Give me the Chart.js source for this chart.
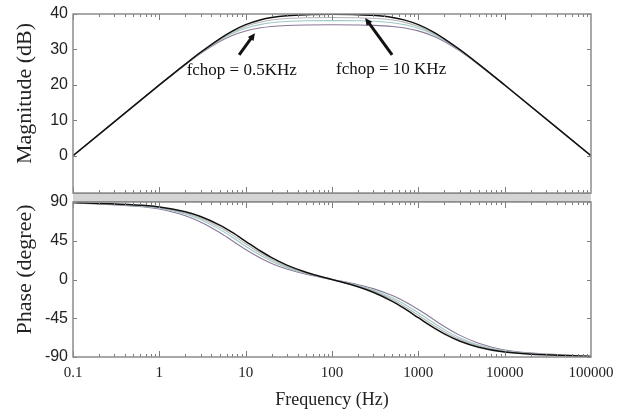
<!DOCTYPE html>
<html>
<head>
<meta charset="utf-8">
<script src="https://cdn.jsdelivr.net/npm/chart.js@4"></script>
<style>
  body { margin: 0; background: #fff; }
  #wrap { position: relative; width: 619px; height: 418px; overflow: hidden; }
  .box { position: absolute; left: 0; width: 619px; }
  #top { top: 0; height: 196px; }
  #bot { top: 186px; height: 232px; }
  #band { position: absolute; left: 73px; width: 518px; top: 193px; height: 7px;
          background: #d4d4d4; border-top: 1px solid #8c8c8c; border-bottom: 1px solid #8c8c8c; z-index: 2; }
</style>
</head>
<body>
<div id="wrap">
  <div class="box" id="top"><canvas id="magChart"></canvas></div>
  <div id="band"></div>
  <div class="box" id="bot"><canvas id="phaseChart"></canvas></div>
</div>
<script>
// frequency points (Hz)
const freqs = [0.1, 1, 2, 3, 5, 7, 10, 15, 20, 30, 50, 100, 200, 300, 500, 700, 1000, 1500, 2000, 3000, 5000, 10000, 100000];

// magnitude (dB)
const magBlack  = [0, 20.0, 25.85, 29.17, 33.01, 35.17, 36.99, 38.40, 39.03, 39.54, 39.82, 39.91, 39.82, 39.62, 39.03, 38.27, 36.99, 34.88, 33.01, 30.0, 25.85, 19.96, 0];
const magGray   = [0, 19.97, 25.81, 29.08, 32.8, 34.83, 36.5, 37.74, 38.29, 38.72, 38.95, 39.03, 38.96, 38.79, 38.29, 37.63, 36.5, 34.56, 32.8, 29.89, 25.81, 19.95, 0];
const magTeal   = [0, 19.93, 25.77, 28.99, 32.59, 34.49, 36.0, 37.08, 37.54, 37.89, 38.08, 38.14, 38.09, 37.95, 37.54, 36.98, 36.0, 34.24, 32.58, 29.78, 25.76, 19.93, 0];
const magPurple = [0, 19.91, 25.69, 28.82, 32.22, 33.94, 35.23, 36.13, 36.49, 36.76, 36.90, 36.96, 36.90, 36.80, 36.49, 36.05, 35.24, 33.72, 32.22, 29.59, 25.69, 19.92, 0];

// phase (degree)
const phaseBlack  = [89.4, 84.2, 78.6, 73.1, 63.1, 54.6, 44.4, 32.8, 25.4, 16.7, 8.4, 0, -8.4, -14.8, -25.4, -34.2, -44.4, -55.9, -63.1, -71.4, -78.6, -84.2, -89.4];
const phaseGray   = [89.35, 83.5, 77.3, 71.3, 60.6, 51.8, 41.5, 30.3, 23.3, 15.2, 7.6, 0, -7.6, -13.5, -23.3, -31.6, -41.5, -53.1, -60.6, -69.5, -77.3, -83.5, -89.35];
const phaseTeal   = [89.3, 82.9, 76.1, 69.6, 58.2, 49.0, 38.6, 27.8, 21.2, 13.8, 6.9, 0, -6.9, -12.2, -21.2, -29.0, -38.6, -50.3, -58.2, -67.6, -76.1, -82.9, -89.3];
const phasePurple = [89.2, 81.9, 74.1, 66.9, 54.6, 45.0, 34.9, 24.7, 18.7, 12.1, 6.0, 0, -6.0, -10.6, -18.7, -25.8, -34.9, -46.4, -54.6, -64.6, -74.1, -81.9, -89.2];

// tick labels
const freqLabels = [0.1, 1, 10, 100, 1000, 10000, 100000];
const magTicks = [0, 10, 20, 30, 40];
const phaseTicks = [-90, -45, 0, 45, 90];

const serif = '"Liberation Serif", "Times New Roman", serif';
const sans = '"Liberation Sans", Arial, sans-serif';

function series(vals) {
  return freqs.map((f, i) => ({ x: f, y: vals[i] }));
}

function makeSets(black, gray, teal, purple) {
  const base = { pointRadius: 0, fill: false, cubicInterpolationMode: 'monotone' };
  return [
    Object.assign({ data: series(black), borderColor: '#111111', borderWidth: 1.5 }, base),
    Object.assign({ data: series(gray), borderColor: '#b4b4b4', borderWidth: 1.1 }, base),
    Object.assign({ data: series(teal), borderColor: '#9cc8c6', borderWidth: 1.1 }, base),
    Object.assign({ data: series(purple), borderColor: '#8a7898', borderWidth: 1.1 }, base)
  ];
}

// drop the extra room Chart.js keeps for half a label at the axis ends
function noEdgePad(s) {
  s.paddingTop = 0; s.paddingBottom = 0; s.paddingLeft = 0; s.paddingRight = 0;
}

// frame with inward tick marks, plus the rotated y title
const frameTicks = {
  id: 'frameTicks',
  afterDatasetsDraw(chart, args, opts) {
    const { ctx, chartArea: a } = chart;
    const x = chart.scales.x, y = chart.scales.y;
    ctx.save();
    ctx.strokeStyle = '#7c7c7c';
    ctx.lineWidth = 1;
    ctx.beginPath();
    freqLabels.slice(0, -1).forEach(d => {
      for (let k = 1; k < 10; k++) {
        const px = Math.round(x.getPixelForValue(d * k)) + 0.5;
        const len = k === 1 ? 6 : 3;
        ctx.moveTo(px, a.top); ctx.lineTo(px, a.top + len);
        ctx.moveTo(px, a.bottom); ctx.lineTo(px, a.bottom - len);
      }
    });
    opts.yTicks.forEach(v => {
      const py = Math.round(y.getPixelForValue(v)) + 0.5;
      ctx.moveTo(a.left, py); ctx.lineTo(a.left + 4, py);
      ctx.moveTo(a.right, py); ctx.lineTo(a.right - 4, py);
    });
    ctx.stroke();
    ctx.lineWidth = 1.5;
    ctx.strokeStyle = '#8c8c8c';
    ctx.strokeRect(a.left, a.top, a.width, a.height);

    // y title, sitting a little above the middle of the axis as in the original
    ctx.translate(25, (a.top + a.bottom) / 2 - 10);
    ctx.rotate(-Math.PI / 2);
    ctx.fillStyle = '#222';
    ctx.font = '22px ' + serif;
    ctx.textAlign = 'center';
    ctx.textBaseline = 'middle';
    ctx.fillText(opts.title, 0, 0);
    ctx.restore();
  }
};

// text labels with arrows, placed in data space
const notes = [
  { text: 'fchop = 0.5KHz', at: [9, 24], tail: [8.4, 28.5], head: [12.8, 34.6] },
  { text: 'fchop = 10 KHz', at: [484, 24.2], tail: [497, 28.5], head: [242, 38.9] }
];

const notePlugin = {
  id: 'notes',
  afterDatasetsDraw(chart) {
    const { ctx } = chart;
    const x = chart.scales.x, y = chart.scales.y;
    ctx.save();
    ctx.fillStyle = '#111';
    ctx.strokeStyle = '#111';
    ctx.font = '17px ' + serif;
    ctx.textAlign = 'center';
    ctx.textBaseline = 'middle';
    notes.forEach(n => {
      ctx.fillText(n.text, x.getPixelForValue(n.at[0]), y.getPixelForValue(n.at[1]));
      const x0 = x.getPixelForValue(n.tail[0]), y0 = y.getPixelForValue(n.tail[1]);
      const x1 = x.getPixelForValue(n.head[0]), y1 = y.getPixelForValue(n.head[1]);
      const ang = Math.atan2(y1 - y0, x1 - x0);
      const hl = 8;
      ctx.lineWidth = 3;
      ctx.beginPath();
      ctx.moveTo(x0, y0);
      ctx.lineTo(x1 - Math.cos(ang) * hl * 0.7, y1 - Math.sin(ang) * hl * 0.7);
      ctx.stroke();
      ctx.beginPath();
      ctx.moveTo(x1, y1);
      ctx.lineTo(x1 - hl * Math.cos(ang - 0.45), y1 - hl * Math.sin(ang - 0.45));
      ctx.lineTo(x1 - hl * Math.cos(ang + 0.45), y1 - hl * Math.sin(ang + 0.45));
      ctx.closePath();
      ctx.fill();
    });
    ctx.restore();
  }
};

function yAxis(min, max, ticks) {
  return {
    min: min, max: max,
    afterBuildTicks: s => { s.ticks = ticks.map(v => ({ value: v })); },
    afterFit: s => { s.width = 73; noEdgePad(s); },
    grid: { display: false, drawTicks: false },
    border: { display: false },
    ticks: { padding: 5, color: '#222', font: { family: sans, size: 16 } }
  };
}

new Chart(document.getElementById('magChart'), {
  type: 'line',
  data: { datasets: makeSets(magBlack, magGray, magTeal, magPurple) },
  options: {
    responsive: true, maintainAspectRatio: false, animation: false,
    layout: { padding: { top: 14, right: 28, bottom: 3, left: 0 } },
    plugins: { legend: { display: false }, tooltip: { enabled: false },
               frameTicks: { yTicks: magTicks, title: 'Magnitude (dB)' } },
    scales: {
      x: { type: 'logarithmic', min: 0.1, max: 100000, display: false },
      y: yAxis(-10.5, 40, magTicks)
    }
  },
  plugins: [frameTicks, notePlugin]
});

new Chart(document.getElementById('phaseChart'), {
  type: 'line',
  data: { datasets: makeSets(phaseBlack, phaseGray, phaseTeal, phasePurple) },
  options: {
    responsive: true, maintainAspectRatio: false, animation: false,
    layout: { padding: { top: 16, right: 28, bottom: 0, left: 0 } },
    plugins: { legend: { display: false }, tooltip: { enabled: false },
               frameTicks: { yTicks: phaseTicks, title: 'Phase (degree)' } },
    scales: {
      x: {
        type: 'logarithmic', min: 0.1, max: 100000,
        afterBuildTicks: s => { s.ticks = freqLabels.map(v => ({ value: v })); },
        afterFit: s => { s.height = 61; noEdgePad(s); },
        grid: { display: false, drawTicks: false },
        border: { display: false },
        ticks: { autoSkip: false, maxRotation: 0, padding: 7, color: '#222',
                 font: { family: serif, size: 15 }, callback: v => String(v) },
        title: { display: true, text: 'Frequency (Hz)', color: '#222',
                 font: { family: serif, size: 18, lineHeight: 1.2 }, padding: { top: 0, bottom: 7 } }
      },
      y: yAxis(-90, 90, phaseTicks)
    }
  },
  plugins: [frameTicks]
});
</script>
</body>
</html>
